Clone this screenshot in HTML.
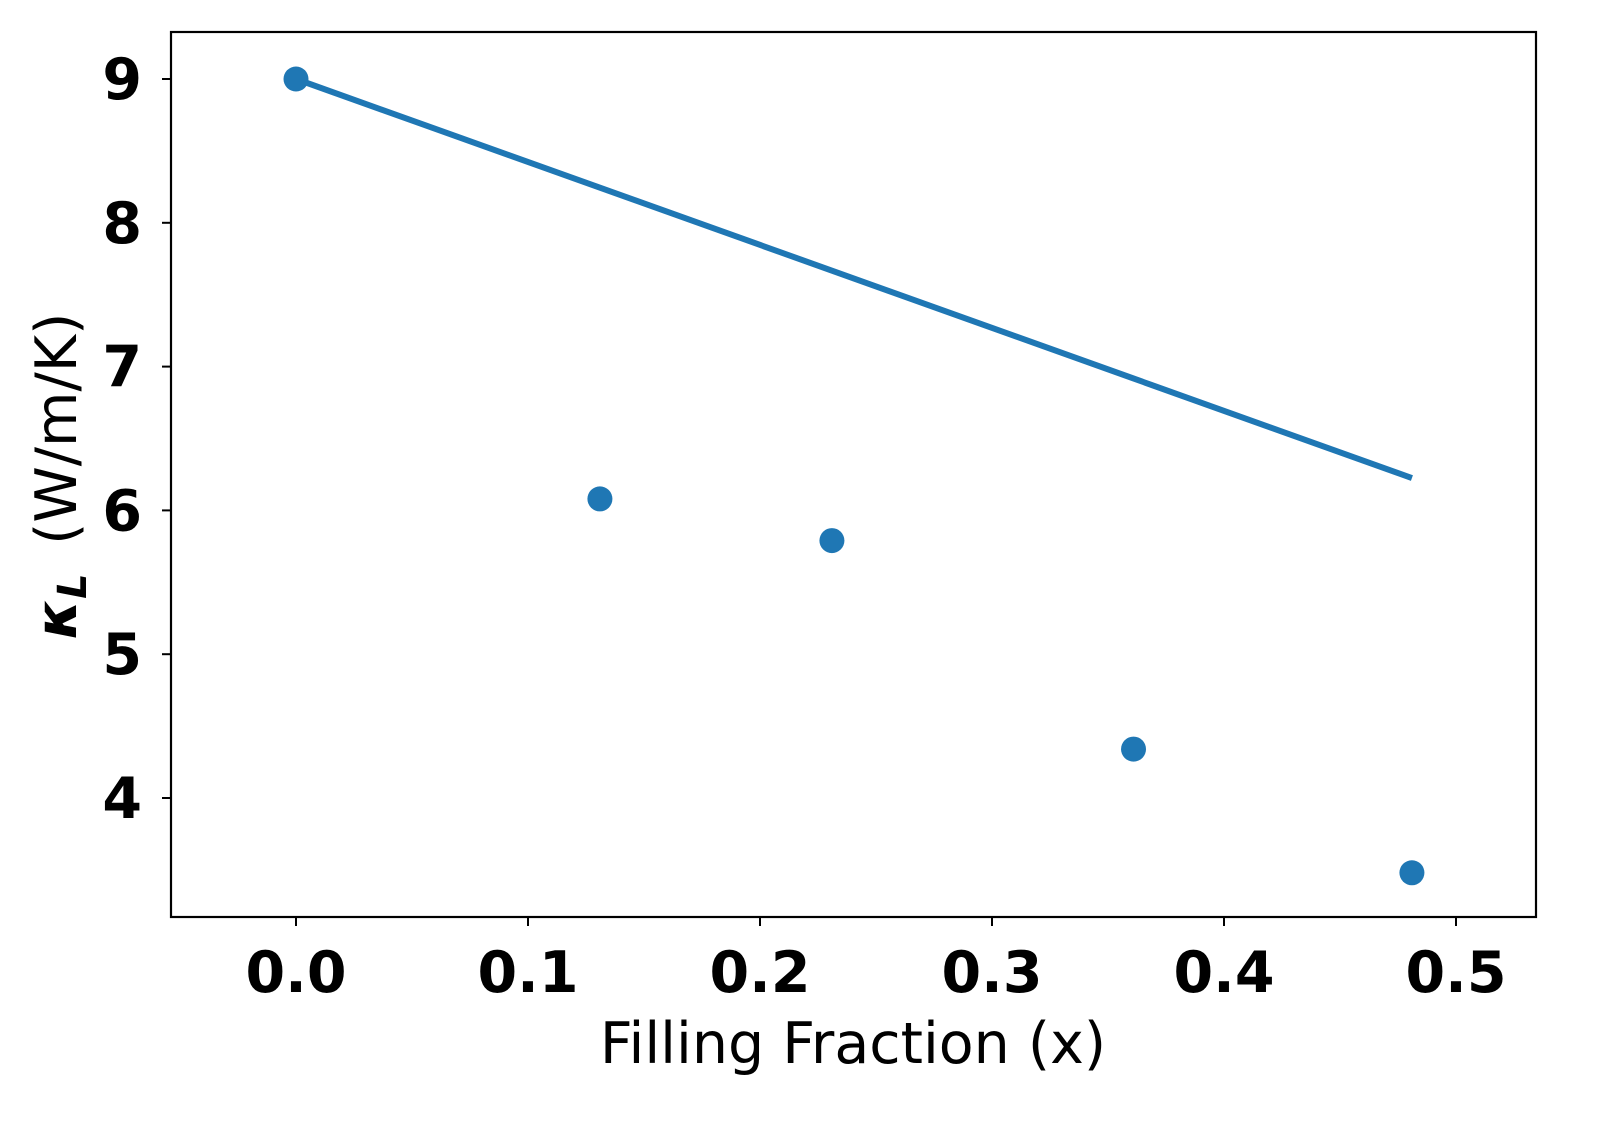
<!DOCTYPE html>
<html><head><meta charset="utf-8"><style>
html,body{margin:0;padding:0;background:#fff;}
svg{display:block;font-family:"DejaVu Sans","Liberation Sans",sans-serif;}
</style></head><body>
<svg id="chart" width="1603" height="1129" viewBox="0 0 1603 1129"></svg>
<script>
const xTicks=[0.0,0.1,0.2,0.3,0.4,0.5];
const xTickLabels=["0.0","0.1","0.2","0.3","0.4","0.5"];
const yTicks=[4,5,6,7,8,9];
const yTickLabels=["4","5","6","7","8","9"];
const pointX=[0.0,0.131,0.231,0.361,0.481];
const pointY=[9.0,6.08,5.79,4.34,3.48];
const lineX=[0.0,0.481];
const lineY=[9.0,6.225];

const L=171,R=1536,T=32,B=917;
const X=v=>296+(v-0)*2320;
const Y=v=>79+(9-v)*143.8;
const svg=document.getElementById('chart');
const NS='http://www.w3.org/2000/svg';
function mk(tag,attrs,parent){const e=document.createElementNS(NS,tag);for(const k in attrs)e.setAttribute(k,attrs[k]);(parent||svg).appendChild(e);return e;}

const frame=mk('rect',{x:L,y:T,width:R-L,height:B-T,fill:'none',stroke:'#000','stroke-width':2.2});



xTicks.forEach((t,i)=>{
  const g=mk('g',{});
  
  
  mk('line',{x1:X(t),x2:X(t),y1:B,y2:B+9,stroke:'#000','stroke-width':2},g);
  const tx=mk('text',{x:X(t),y:B+75,'text-anchor':'middle','font-size':57,'font-weight':'bold'},g);
  tx.textContent=xTickLabels[i];
});
yTicks.forEach((t,i)=>{
  const g=mk('g',{});
  
  
  mk('line',{x1:L-9,x2:L,y1:Y(t),y2:Y(t),stroke:'#000','stroke-width':2},g);
  const tx=mk('text',{x:L-29,y:Y(t)+20,'text-anchor':'end','font-size':57,'font-weight':'bold'},g);
  tx.textContent=yTickLabels[i];
});

const line=mk('polyline',{points:lineX.map((v,i)=>X(v)+','+Y(lineY[i])).join(' '),fill:'none',stroke:'#1f77b4','stroke-width':6});



pointX.forEach((v,i)=>{
  const c=mk('circle',{cx:X(v),cy:Y(pointY[i]),r:12.5,fill:'#1f77b4'});
  
  
});

const xl=mk('text',{x:853,y:1063,'text-anchor':'middle','font-size':57});
xl.textContent='Filling Fraction (x)';



const yl=mk('text',{transform:'translate(76,476) rotate(-90)','text-anchor':'middle','font-size':57});


const k=mk('tspan',{'font-weight':'bold','font-style':'italic'},yl);k.textContent='κ';
const sub=mk('tspan',{'font-weight':'bold','font-style':'italic','font-size':40,dy:10},yl);sub.textContent='L';
const rest=mk('tspan',{dy:-10},yl);rest.textContent='\u2002(W/m/K)';
</script>
</body></html>
